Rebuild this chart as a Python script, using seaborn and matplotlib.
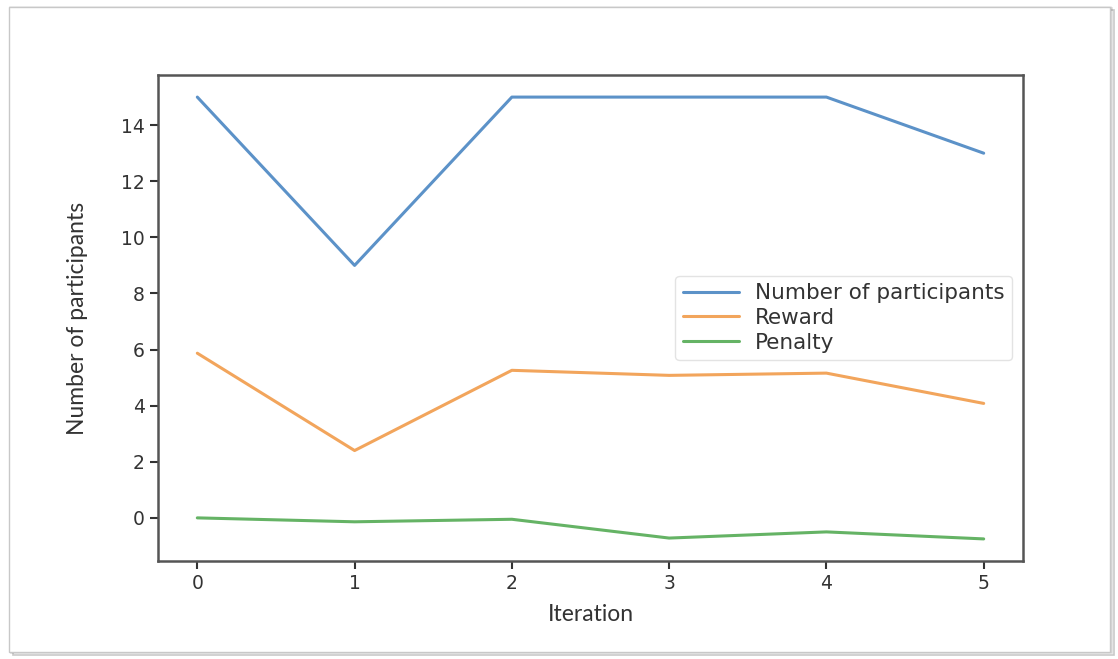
import matplotlib
matplotlib.use("Agg")
import matplotlib.pyplot as plt
from matplotlib.patches import Rectangle
import pandas as pd
import seaborn as sns

iterations = [0, 1, 2, 3, 4, 5]
participants = [15, 9, 15, 15, 15, 13]
reward = [5.87, 2.40, 5.26, 5.08, 5.16, 4.08]
penalty = [0.0, -0.14, -0.05, -0.72, -0.50, -0.75]
series_names = ["Number of participants", "Reward", "Penalty"]

df = pd.DataFrame({
    "Iteration": iterations * 3,
    "value": participants + reward + penalty,
    "series": [series_names[0]] * 6 + [series_names[1]] * 6 + [series_names[2]] * 6,
})

sns.set_style("white")
plt.rcParams["font.family"] = ["DejaVu Sans"]

fig = plt.figure(figsize=(11.18, 6.59), dpi=100)
fig.patch.set_facecolor("white")

# framed card with soft shadow around the plot
for i, a in enumerate([0.10, 0.18, 0.30]):
    fig.patches.append(Rectangle((10 / 1118 + i * 0.0012, 7 / 659 - i * 0.002),
                                 1101 / 1118, 645 / 659,
                                 transform=fig.transFigure, facecolor="none",
                                 edgecolor=(0.3, 0.3, 0.3, a), lw=1.2, zorder=-10))
fig.patches.append(Rectangle((9 / 1118, 7 / 659), 1101 / 1118, 645 / 659,
                             transform=fig.transFigure, facecolor="white",
                             edgecolor="#c8c8c8", lw=1.0, zorder=-5))

ax = fig.add_axes([158 / 1118, 1 - 561 / 659, 865 / 1118, 486 / 659])
ax.set_zorder(1)
palette = ["#3f7fbf", "#f0953f", "#4aa64a"]
sns.lineplot(data=df, x="Iteration", y="value", hue="series", hue_order=series_names,
             palette=palette, linewidth=2.2, alpha=0.85, ax=ax)

ax.set_xticks(iterations)
ax.set_yticks([0, 2, 4, 6, 8, 10, 12, 14])
ax.tick_params(axis="both", labelsize=13.5, colors="#333333", length=6, width=1.5,
               direction="out", left=True, bottom=True)
for s in ax.spines.values():
    s.set_visible(True)
    s.set_color("#555555")
    s.set_linewidth(1.8)

ax.set_xlabel("Iteration", family="Lato", fontsize=16.5, color="#333333", labelpad=8)
ax.set_ylabel("Number of participants", family="Lato", fontsize=16.5, color="#333333",
              labelpad=24)

handles, labels = ax.get_legend_handles_labels()
ax.legend(handles, labels, loc="center right", fontsize=15.5, frameon=True,
          edgecolor="#dddddd", handlelength=2.6, labelspacing=0.22,
          handletextpad=0.75, borderpad=0.35, labelcolor="#333333")

fig.savefig("out.png", dpi=100, facecolor="white")
